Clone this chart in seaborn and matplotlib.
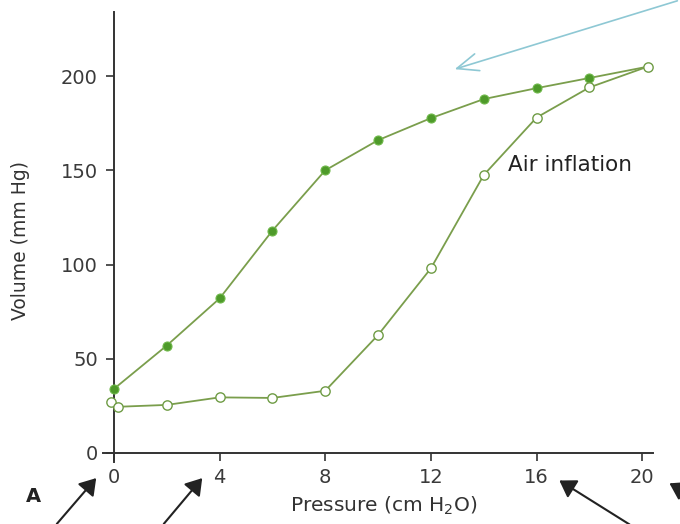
import matplotlib
matplotlib.use("Agg")
import matplotlib.pyplot as plt
import seaborn as sns
import pandas as pd

# Data
defl_x = [20.2, 18, 16, 14, 12, 10, 8, 6, 4, 2, 0]
defl_y = [205, 199, 193.6, 187.8, 177.7, 166, 150, 118, 82, 57, 34]
filled_x = [18, 16, 14, 12, 10, 8, 6, 4, 2, 0]
filled_y = [199, 193.6, 187.8, 177.7, 166, 150, 118, 82, 57, 34]
infl_x = [-0.1, 0.15, 2, 4, 6, 8, 10, 12, 14, 16, 18, 20.2]
infl_y = [27, 24.5, 25.5, 29.5, 29.2, 33, 62.6, 98, 147.5, 178, 194, 205]
x_ticks = [0, 4, 8, 12, 16, 20]
y_ticks = [0, 50, 100, 150, 200]

sns.set_theme(style="white")
plt.rcParams['font.family'] = ['DejaVu Sans']

fig = plt.figure(figsize=(6.8, 5.24), dpi=100)
ax = fig.add_axes([0.152, 0.1176, 0.808, 0.8594])

line_col = "#7a9e4c"
df_d = pd.DataFrame({"x": defl_x, "y": defl_y})
df_i = pd.DataFrame({"x": infl_x, "y": infl_y})
df_f = pd.DataFrame({"x": filled_x, "y": filled_y})

sns.lineplot(data=df_d, x="x", y="y", sort=False, ax=ax, color=line_col, lw=1.3, zorder=2)
sns.lineplot(data=df_i, x="x", y="y", sort=False, ax=ax, color=line_col, lw=1.3, zorder=2)
sns.scatterplot(data=df_f, x="x", y="y", ax=ax, color="#4e9a2a", edgecolor="#6fb84a",
                s=42, linewidth=0.8, zorder=3)
sns.scatterplot(data=df_i, x="x", y="y", ax=ax, color="white", edgecolor="#6f9c45",
                s=45, linewidth=1.0, zorder=3)

ax.set_xlim(-0.4, 20.4)
ax.set_ylim(-5, 234)
ax.spines['left'].set_position(('data', 0))
ax.spines['bottom'].set_position(('data', 0))
for s in ['top', 'right']:
    ax.spines[s].set_visible(False)
for s in ['left', 'bottom']:
    ax.spines[s].set_color('#333333')
    ax.spines[s].set_linewidth(1.4)

ax.set_xticks(x_ticks)
ax.set_yticks(y_ticks)
ax.set_xticklabels([str(v) for v in x_ticks])
ax.set_yticklabels([str(v) for v in y_ticks])
ax.tick_params(axis='both', direction='out', length=5.5, width=1.2, color='#333333',
               labelsize=14, labelcolor='#3a3a3a', bottom=True, left=True)
ax.tick_params(axis='y', pad=6)
ax.tick_params(axis='x', pad=5)
ax.set_xlabel("")
ax.set_ylabel("")

fig.text(384/680, 1 - 506/524, "Pressure (cm H$_\\mathregular{2}$O)", ha='center', va='center',
         fontsize=14.5, color='#333333')
fig.text(21/680, 1 - 241/524, "Volume (mm Hg)", ha='center', va='center', rotation=90,
         fontsize=13.5, color='#333333')
ax.text(508/680, 1 - 165/524, "Air inflation", transform=fig.transFigure, ha='left',
        va='center', fontsize=15.5, color='#222222')
fig.text(33/680, 1 - 497/524, "A", ha='center', va='center', fontsize=14,
         fontweight='bold', color='#222222')

def farrow(x0, y0, x1, y1, color='#222222', lw=1.5, hw=0.45):
    fig.add_artist(matplotlib.patches.FancyArrowPatch(
        (x0 / 680, 1 - y0 / 524), (x1 / 680, 1 - y1 / 524),
        transform=fig.transFigure, arrowstyle=f'-|>,head_length=0.7,head_width={hw}',
        color=color, lw=lw, mutation_scale=14))

farrow(55, 526, 98, 476)
farrow(162, 526, 204, 476)
farrow(632, 526, 557, 479)
farrow(700, 500, 667, 482)
fig.add_artist(matplotlib.patches.FancyArrowPatch(
    (680 / 680, 1 - 0 / 524), (452 / 680, 1 - 70 / 524),
    transform=fig.transFigure, arrowstyle='->,head_length=1.1,head_width=0.45',
    color='#8ec8d4', lw=1.2, mutation_scale=14))

fig.savefig("out.png", dpi=100)
